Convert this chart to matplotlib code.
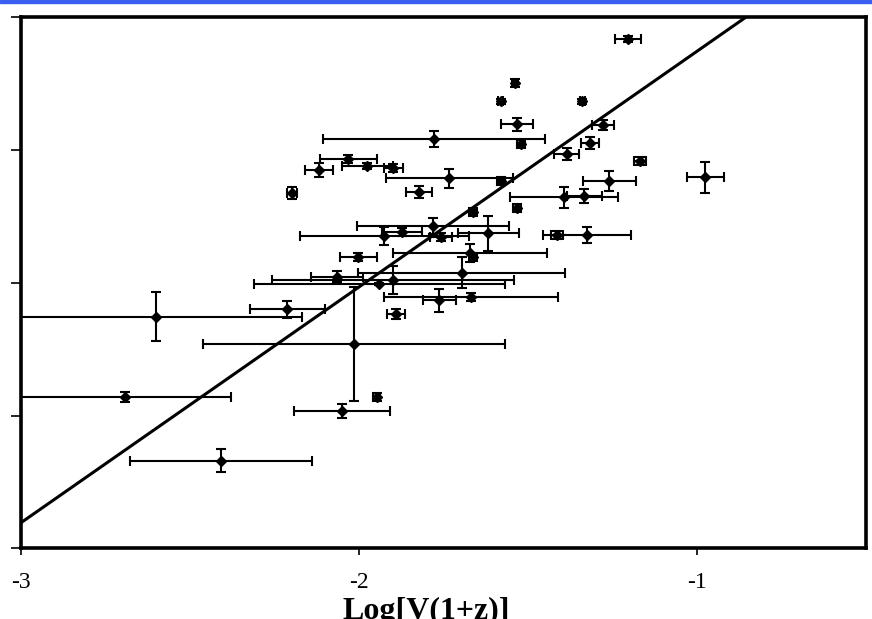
import matplotlib
matplotlib.use('Agg')
import matplotlib.pyplot as plt
from matplotlib.patches import Rectangle

# points: log V(1+z) vs (unlabelled) y
x = [-1.204, -1.538, -1.581, -1.339, -1.533, -1.279, -1.521, -1.317, -1.386, -1.169,
     -0.975, -1.259, -1.393, -1.334, -1.532, -1.733, -1.581, -1.778, -2.032, -2.119,
     -1.975, -1.899, -1.822, -2.199, -1.662, -1.782, -1.925, -1.874, -1.757, -1.617,
     -1.672, -1.663, -2.002, -1.413, -1.326, -1.696, -2.064, -1.900, -1.940, -2.015,
     -1.762, -1.669, -2.212, -2.601, -1.891, -2.692, -1.948, -2.049, -2.408]
y = [3.836, 3.507, 3.367, 3.367, 3.194, 3.186, 3.046, 3.051, 2.968, 2.917,
     2.795, 2.767, 2.644, 2.654, 2.561, 2.789, 2.767, 3.083, 2.933, 2.850,
     2.880, 2.867, 2.682, 2.674, 2.531, 2.428, 2.353, 2.385, 2.347, 2.373,
     2.222, 2.194, 2.197, 2.362, 2.362, 2.076, 2.046, 2.021, 1.990, 1.539,
     1.870, 1.891, 1.800, 1.745, 1.763, 1.142, 1.142, 1.034, 0.660]
xerr = [0.038, 0.009, 0.008, 0.008, 0.047, 0.033, 0.012, 0.027, 0.037, 0.018,
        0.056, 0.079, 0.159, 0.052, 0.012, 0.188, 0.012, 0.328, 0.084, 0.041,
        0.076, 0.028, 0.038, 0.015, 0.012, 0.225, 0.251, 0.059, 0.033, 0.090,
        0.228, 0.012, 0.055, 0.018, 0.130, 0.306, 0.077, 0.358, 0.372, 0.448,
        0.050, 0.257, 0.110, 0.433, 0.027, 0.314, 0.010, 0.142, 0.269]
yerr = [0.023, 0.030, 0.020, 0.020, 0.050, 0.038, 0.030, 0.045, 0.045, 0.030,
        0.117, 0.072, 0.080, 0.053, 0.030, 0.072, 0.030, 0.060, 0.030, 0.050,
        0.023, 0.030, 0.045, 0.045, 0.030, 0.063, 0.068, 0.030, 0.030, 0.132,
        0.068, 0.030, 0.030, 0.030, 0.060, 0.117, 0.041, 0.102, 0.010, 0.430,
        0.087, 0.030, 0.064, 0.184, 0.038, 0.038, 0.030, 0.053, 0.085]

# fitted line, end points
fit_x = [-3.0, -0.856]
fit_y = [0.193, 4.0]

xticks = [-3, -2, -1]

fig = plt.figure(figsize=(8.72, 6.19), dpi=100)
ax = fig.add_axes([0.0241, 0.1142, 0.969, 0.8578])

ax.errorbar(x, y, xerr=xerr, yerr=yerr, fmt='D', color='black', ms=5,
            ecolor='black', elinewidth=1.5, capsize=3.8, capthick=1.5)
ax.plot(fit_x, fit_y, color='black', lw=2.2)

ax.set_xlim(-3, -0.5)
ax.set_ylim(0, 4)
ax.set_xticks(xticks)
ax.set_xticklabels([str(t) for t in xticks], family='Liberation Serif', fontsize=17)
ax.set_yticks([0, 1, 2, 3, 4])
ax.set_yticklabels([])
ax.tick_params(axis='x', direction='out', length=5, width=1.2, pad=12)
ax.tick_params(axis='y', direction='out', length=7, width=1.2)
for s in ax.spines.values():
    s.set_linewidth(2.6)

ax.set_xlabel('Log[V(1+z)]', family='Liberation Serif', fontweight='bold', fontsize=23)
ax.xaxis.set_label_coords(0.48, -0.092)

# blue strip along the top edge
fig.patches.append(Rectangle((0, 1 - 2.5 / 619), 1, 2.5 / 619, transform=fig.transFigure,
                             color='#3a5ff0', zorder=0))

fig.savefig('out.png', dpi=100)
